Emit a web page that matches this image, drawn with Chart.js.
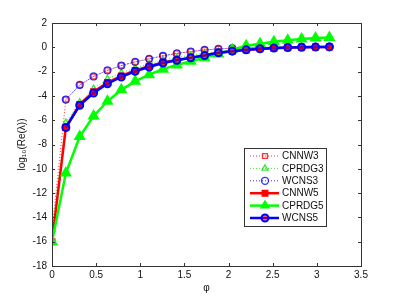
<!DOCTYPE html>
<html>
<head>
<meta charset="utf-8">
<script src="https://cdn.jsdelivr.net/npm/chart.js@4/dist/chart.umd.min.js"></script>
<style>
    html, body { margin: 0; padding: 0; background: #fff; }
    #wrap { width: 399px; height: 299px; }
</style>
</head>
<body>
<div id="wrap"><canvas id="chart" width="399" height="299"></canvas></div>
<script>
// phi = k*pi/20, k = 0..20
const phi = [0, 0.157, 0.314, 0.471, 0.628, 0.785, 0.942, 1.100, 1.257, 1.414, 1.571,
             1.728, 1.885, 2.042, 2.199, 2.356, 2.513, 2.670, 2.827, 2.985, 3.142];

const cnnw3  = [-15, -4.3, -3.1, -2.4, -1.9, -1.5, -1.2, -0.95, -0.7, -0.5, -0.35,
                -0.22, -0.13, -0.08, -0.04, -0.01, 0, 0.02, 0.03, 0.04, 0.05];
const cprdg3 = [-15, -6.2, -4.5, -3.4, -2.6, -2.1, -1.7, -1.35, -1.05, -0.85, -0.65,
                -0.5, -0.35, -0.22, -0.12, -0.05, 0, 0.03, 0.05, 0.06, 0.07];
const wcns3  = [null, -4.3, -3.1, -2.4, -1.9, -1.5, -1.2, -0.95, -0.7, -0.5, -0.35,
                -0.22, -0.13, -0.08, -0.04, -0.01, 0, 0.02, 0.03, 0.04, 0.05];
const cnnw5  = [-16, -6.6, -4.7, -3.65, -2.9, -2.35, -1.9, -1.55, -1.25, -1.05, -0.85,
                -0.66, -0.45, -0.32, -0.22, -0.13, -0.07, -0.03, 0, 0.02, 0.03];
const cprdg5 = [-16, -10.35, -7.35, -5.65, -4.45, -3.5, -2.8, -2.25, -1.8, -1.45, -1.15,
                -0.85, -0.55, -0.2, 0.12, 0.3, 0.45, 0.58, 0.68, 0.76, 0.8];
const wcns5  = [null, -6.6, -4.77, -3.76, -3.0, -2.44, -1.98, -1.62, -1.29, -1.07, -0.87,
                -0.68, -0.45, -0.32, -0.21, -0.12, -0.06, -0.02, 0, 0.02, 0.03];

const seriesNames = ['CNNW3', 'CPRDG3', 'WCNS3', 'CNNW5', 'CPRDG5', 'WCNS5'];

const xTicks = [0, 0.5, 1, 1.5, 2, 2.5, 3, 3.5];
const yTicks = [-18, -16, -14, -12, -10, -8, -6, -4, -2, 0, 2];

function pts(ys) {
    return phi.map(function (x, i) { return { x: x, y: ys[i] }; });
}

// dotted, hollow markers
function thin(label, ys, color, style, order) {
    return {
        label: label, data: pts(ys), order: order,
        borderColor: color, borderWidth: 1, borderDash: [1, 2],
        pointStyle: style, pointRadius: 3.5,
        pointBorderColor: color, pointBackgroundColor: 'rgba(0,0,0,0)', pointBorderWidth: 1.3,
        fill: false, tension: 0, spanGaps: false
    };
}

// thick solid lines, filled markers
function thick(label, ys, color, style, radius, fillPt, order) {
    return {
        label: label, data: pts(ys), order: order,
        borderColor: color, borderWidth: 2.5,
        pointStyle: style, pointRadius: radius,
        pointBorderColor: color, pointBackgroundColor: fillPt, pointBorderWidth: 2,
        fill: false, tension: 0, spanGaps: false
    };
}

const datasets = [
    thin(seriesNames[0], cnnw3, 'rgba(255,0,0,0.8)', 'rect', 5),
    thin(seriesNames[1], cprdg3, 'rgba(0,230,0,0.8)', 'triangle', 4),
    thin(seriesNames[2], wcns3, 'rgba(0,0,255,0.8)', 'circle', 3),
    thick(seriesNames[3], cnnw5, '#ff0000', 'rect', 3.5, '#ff0000', 2),
    thick(seriesNames[4], cprdg5, '#00ff00', 'triangle', 5, '#00ff00', 1),
    thick(seriesNames[5], wcns5, '#0000ff', 'circle', 3.5, 'rgba(255,0,0,0.5)', 0)
];

// =========================
// MATLAB-STYLE BOX + INWARD TICKS
// =========================
const boxTicks = {
    id: 'boxTicks',
    afterDraw: function (chart) {
        const ctx = chart.ctx;
        const a = chart.chartArea;
        const xs = chart.scales.x, ys = chart.scales.y;
        ctx.save();
        ctx.strokeStyle = '#333';
        ctx.lineWidth = 1;
        ctx.strokeRect(Math.round(a.left) + 0.5, Math.round(a.top) + 0.5,
                       Math.round(a.right - a.left), Math.round(a.bottom - a.top));
        ctx.beginPath();
        xTicks.forEach(function (v) {
            const px = Math.round(xs.getPixelForValue(v)) + 0.5;
            ctx.moveTo(px, a.bottom); ctx.lineTo(px, a.bottom - 3);
            ctx.moveTo(px, a.top); ctx.lineTo(px, a.top + 3);
        });
        yTicks.forEach(function (v) {
            const py = Math.round(ys.getPixelForValue(v)) + 0.5;
            ctx.moveTo(a.left, py); ctx.lineTo(a.left + 3, py);
            ctx.moveTo(a.right, py); ctx.lineTo(a.right - 3, py);
        });
        ctx.stroke();
        ctx.restore();
    }
};

// =========================
// LEGEND BOX (inside axes)
// =========================
const legendBox = {
    id: 'legendBox',
    afterDraw: function (chart) {
        const ctx = chart.ctx;
        const bx = 244, by = 148, bw = 82, bh = 78;
        ctx.save();
        ctx.fillStyle = '#fff';
        ctx.fillRect(bx, by, bw, bh);
        ctx.strokeStyle = '#333';
        ctx.lineWidth = 1;
        ctx.strokeRect(bx + 0.5, by + 0.5, bw, bh);
        ctx.font = '10px "Liberation Sans", Arial, sans-serif';
        ctx.textBaseline = 'middle';
        ctx.textAlign = 'left';
        datasets.forEach(function (ds, i) {
            const y = by + 8 + i * 12.4;
            ctx.save();
            ctx.strokeStyle = ds.borderColor;
            ctx.lineWidth = ds.borderWidth;
            ctx.setLineDash(ds.borderDash || []);
            ctx.beginPath();
            ctx.moveTo(250, y); ctx.lineTo(279, y);
            ctx.stroke();
            ctx.setLineDash([]);
            ctx.strokeStyle = ds.pointBorderColor;
            ctx.fillStyle = ds.pointBackgroundColor;
            ctx.lineWidth = ds.pointBorderWidth;
            Chart.helpers.drawPoint(ctx, {
                pointStyle: ds.pointStyle,
                radius: Math.min(ds.pointRadius, 4),
                rotation: 0,
                borderWidth: ds.pointBorderWidth
            }, 265, y);
            ctx.restore();
            ctx.fillStyle = '#111';
            ctx.fillText(ds.label, 282, y + 0.5);
        });
        ctx.restore();
    }
};

const tickFont = { family: '"Liberation Sans", Arial, sans-serif', size: 10 };

new Chart(document.getElementById('chart'), {
    type: 'line',
    data: { datasets: datasets },
    options: {
        responsive: false,
        animation: false,
        layout: { padding: { top: 23, right: 38, left: 0, bottom: 0 } },
        plugins: {
            legend: { display: false },
            tooltip: { enabled: false }
        },
        scales: {
            x: {
                type: 'linear', min: 0, max: 3.5,
                afterBuildTicks: function (s) { s.ticks = xTicks.map(function (v) { return { value: v }; }); },
                ticks: { color: '#111', font: tickFont, padding: 3, maxRotation: 0,
                         callback: function (v) { return String(v); } },
                grid: { display: false, drawTicks: false },
                border: { display: false },
                title: { display: true, text: 'φ', color: '#111', font: tickFont, padding: { top: 0, bottom: 5 } },
                afterFit: function (s) { s.height = 33; }
            },
            y: {
                type: 'linear', min: -18, max: 2,
                afterBuildTicks: function (s) { s.ticks = yTicks.map(function (v) { return { value: v }; }); },
                ticks: { color: '#111', font: tickFont, padding: 5,
                         callback: function (v) { return String(v); } },
                grid: { display: false, drawTicks: false },
                border: { display: false },
                title: { display: true, text: 'log₁₀(Re(λ))', color: '#111', font: tickFont, padding: { top: 16 } },
                afterFit: function (s) { s.width = 52; }
            }
        }
    },
    plugins: [boxTicks, legendBox]
});
</script>
</body>
</html>
